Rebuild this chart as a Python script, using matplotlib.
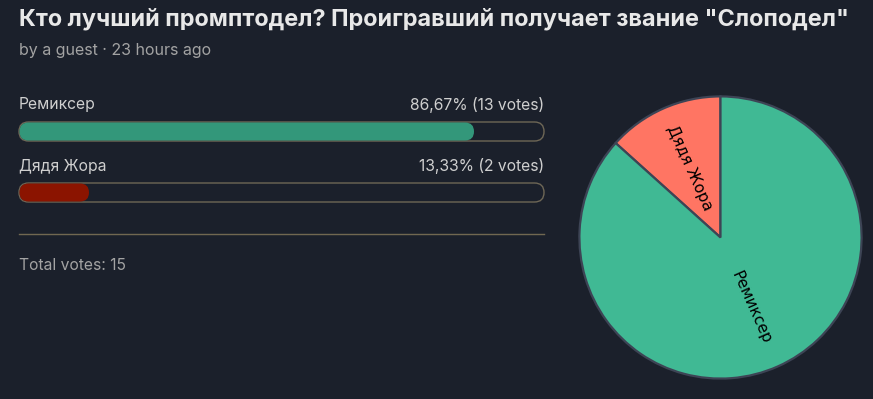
import matplotlib
matplotlib.use("Agg")
import matplotlib.pyplot as plt
from matplotlib.patches import FancyBboxPatch

# ---- data ----
title = 'Кто лучший промптодел? Проигравший получает звание "Слоподел"'
subtitle = "by a guest · 23 hours ago"
options = ["Ремиксер", "Дядя Жора"]
votes = [13, 2]
bar_colors = ["#33977a", "#8b1400"]
pie_labels = ["Дядя Жора", "Ремиксер"]
pie_votes = [2, 13]
pie_colors = ["#ff7563", "#40b994"]

BG = "#1b202b"
W, H = 873, 399
fig = plt.figure(figsize=(W / 100, H / 100), dpi=100, facecolor=BG)
plt.rcParams["font.family"] = ["Inter", "DejaVu Sans"]

ax = fig.add_axes([0, 0, 1, 1])
ax.set_xlim(0, W)
ax.set_ylim(H, 0)
ax.axis("off")
ax.set_facecolor(BG)

ax.text(19, 19, title, fontsize=16.9, fontweight="bold", color="#e8e8e8",
        ha="left", va="center")
ax.text(19, 50, subtitle, fontsize=11.5, color="#a3a3a3", ha="left", va="center")

total = sum(votes)
x0, x1 = 19, 544
blen = x1 - x0
label_y = [105, 166]
bar_y = [122, 183]
bh = 19
for name, v, c, ly, by in zip(options, votes, bar_colors, label_y, bar_y):
    pct = v / total * 100
    ax.text(x0, ly, name, fontsize=11.3, color="#cfcfcf", ha="left", va="center")
    ax.text(x1, ly, f"{pct:.2f}".replace(".", ",") + f"% ({v} votes)",
            fontsize=11.3, color="#cfcfcf", ha="right", va="center")
    outer = FancyBboxPatch((x0, by), blen, bh,
                           boxstyle="round,pad=0,rounding_size=9.5",
                           facecolor="none", edgecolor="#6e6756", linewidth=1.0)
    ax.add_patch(outer)
    fill = FancyBboxPatch((x0 + 0.5, by + 0.5), blen * v / total - 0.5, bh - 1,
                          boxstyle="round,pad=0,rounding_size=9",
                          facecolor=c, edgecolor="none")
    ax.add_patch(fill)

ax.plot([x0, x1], [234, 234], color="#716851", linewidth=1.0)
ax.text(x0, 265, f"Total votes: {total}", fontsize=11.3, color="#a3a3a3",
        ha="left", va="center")

# ---- pie ----
cx, cy, r = 720.5, 237.5, 142.5
pax = fig.add_axes([(cx - r) / W, (H - cy - r) / H, 2 * r / W, 2 * r / H])
pax.set_facecolor(BG)
wedges, texts = pax.pie(pie_votes, labels=pie_labels, colors=pie_colors,
                        startangle=90, counterclock=True, radius=1,
                        labeldistance=0.54, rotatelabels=True,
                        wedgeprops=dict(edgecolor="#3d4455", linewidth=1.6),
                        textprops=dict(fontsize=11.2, color="black",
                                       family=["DejaVu Sans"]))
for t in texts:
    t.set_ha("center")
    t.set_va("center")
    t.set_rotation_mode("anchor")
pax.set_xlim(-1.01, 1.01)
pax.set_ylim(-1.01, 1.01)
pax.set_aspect("equal")
pax.axis("off")

fig.savefig("out.png", dpi=100, facecolor=BG)
